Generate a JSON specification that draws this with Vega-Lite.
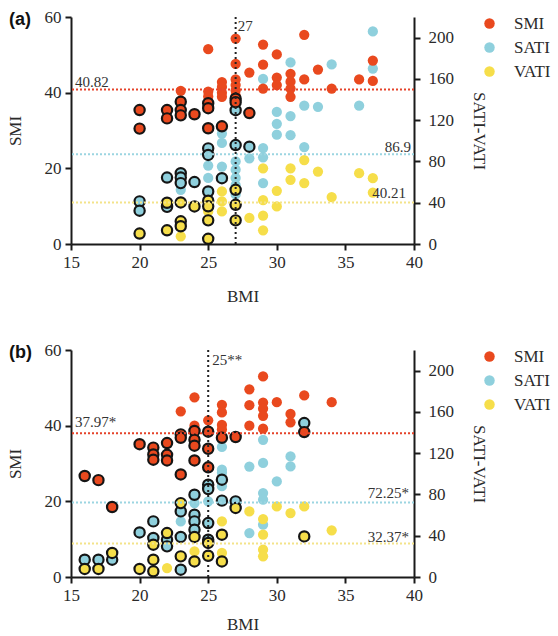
{
"$schema": "https://vega.github.io/schema/vega-lite/v6.json",
"autosize": {"type": "pad"},
"padding": {"left": 6, "top": 8, "right": 0, "bottom": 0},
"bounds": "flush",
"spacing": 106,
"config": {
 "view": {"stroke": null},
 "axis": {"labelFont": "Liberation Serif", "labelFontSize": 17, "labelColor": "#2a2a2a", "titleFont": "Liberation Serif", "titleFontSize": 17, "titleFontWeight": "normal", "titleColor": "#2a2a2a", "domainColor": "#1a1a1a", "domainWidth": 2, "tickColor": "#1a1a1a", "tickWidth": 2, "tickSize": 6, "grid": false, "labelFlush": false, "labelPadding": 4},
 "legend": {"orient": "none", "legendX": 410, "legendY": -2, "title": null, "labelFont": "Liberation Serif", "labelFontSize": 17, "labelColor": "#2a2a2a", "symbolType": "circle", "symbolSize": 110, "symbolStrokeWidth": 0, "rowPadding": 6, "labelOffset": 16}
},
"datasets": {
 "a": [
  {"BMI":23,"series":"SMI","value":40.5,"group":0},{"BMI":25,"series":"SMI","value":51.5,"group":0},{"BMI":25,"series":"SMI","value":40.3,"group":0},{"BMI":25,"series":"SMI","value":39.0,"group":0},{"BMI":26,"series":"SMI","value":42.8,"group":0},{"BMI":26,"series":"SMI","value":41.5,"group":0},{"BMI":26,"series":"SMI","value":40.0,"group":0},{"BMI":26,"series":"SMI","value":38.9,"group":0},{"BMI":27,"series":"SMI","value":54.3,"group":0},{"BMI":27,"series":"SMI","value":47.6,"group":0},{"BMI":27,"series":"SMI","value":43.5,"group":0},{"BMI":27,"series":"SMI","value":42.0,"group":0},{"BMI":27,"series":"SMI","value":40.6,"group":0},{"BMI":27,"series":"SMI","value":39.2,"group":0},{"BMI":28,"series":"SMI","value":45.3,"group":0},{"BMI":29,"series":"SMI","value":52.7,"group":0},{"BMI":29,"series":"SMI","value":47.4,"group":0},{"BMI":29,"series":"SMI","value":41.1,"group":0},{"BMI":30,"series":"SMI","value":50.1,"group":0},{"BMI":30,"series":"SMI","value":44.0,"group":0},{"BMI":30,"series":"SMI","value":42.0,"group":0},{"BMI":31,"series":"SMI","value":45.0,"group":0},{"BMI":31,"series":"SMI","value":42.9,"group":0},{"BMI":31,"series":"SMI","value":41.1,"group":0},{"BMI":31,"series":"SMI","value":38.9,"group":0},{"BMI":32,"series":"SMI","value":55.3,"group":0},{"BMI":32,"series":"SMI","value":43.5,"group":0},{"BMI":33,"series":"SMI","value":46.1,"group":0},{"BMI":34,"series":"SMI","value":41.1,"group":0},{"BMI":36,"series":"SMI","value":43.5,"group":0},{"BMI":37,"series":"SMI","value":48.5,"group":0},{"BMI":37,"series":"SMI","value":43.1,"group":0},
  {"BMI":20,"series":"SMI","value":35.4,"group":1},{"BMI":20,"series":"SMI","value":30.5,"group":1},{"BMI":22,"series":"SMI","value":35.4,"group":1},{"BMI":22,"series":"SMI","value":33.2,"group":1},{"BMI":23,"series":"SMI","value":37.6,"group":1},{"BMI":23,"series":"SMI","value":35.4,"group":1},{"BMI":23,"series":"SMI","value":34.0,"group":1},{"BMI":24,"series":"SMI","value":34.3,"group":1},{"BMI":25,"series":"SMI","value":37.2,"group":1},{"BMI":25,"series":"SMI","value":35.9,"group":1},{"BMI":25,"series":"SMI","value":30.6,"group":1},{"BMI":26,"series":"SMI","value":31.1,"group":1},{"BMI":27,"series":"SMI","value":38.4,"group":1},{"BMI":27,"series":"SMI","value":37.5,"group":1},{"BMI":28,"series":"SMI","value":34.6,"group":1},
  {"BMI":37,"series":"SATI","value":206,"group":0},{"BMI":37,"series":"SATI","value":170,"group":0},{"BMI":31,"series":"SATI","value":176,"group":0},{"BMI":34,"series":"SATI","value":174,"group":0},{"BMI":29,"series":"SATI","value":160,"group":0},{"BMI":32,"series":"SATI","value":134,"group":0},{"BMI":33,"series":"SATI","value":133,"group":0},{"BMI":36,"series":"SATI","value":134,"group":0},{"BMI":30,"series":"SATI","value":128,"group":0},{"BMI":31,"series":"SATI","value":124,"group":0},{"BMI":30,"series":"SATI","value":116.5,"group":0},{"BMI":30,"series":"SATI","value":106,"group":0},{"BMI":31,"series":"SATI","value":105.5,"group":0},{"BMI":32,"series":"SATI","value":94,"group":0},{"BMI":29,"series":"SATI","value":93,"group":0},{"BMI":29,"series":"SATI","value":84,"group":0},{"BMI":29,"series":"SATI","value":59,"group":0},{"BMI":28,"series":"SATI","value":83,"group":0},{"BMI":26,"series":"SATI","value":107,"group":0},{"BMI":26,"series":"SATI","value":98,"group":0},{"BMI":26,"series":"SATI","value":75,"group":0},{"BMI":25,"series":"SATI","value":76,"group":0},{"BMI":25,"series":"SATI","value":64,"group":0},{"BMI":27,"series":"SATI","value":80,"group":0},{"BMI":27,"series":"SATI","value":72,"group":0},{"BMI":27,"series":"SATI","value":64,"group":0},{"BMI":27,"series":"SATI","value":57,"group":0},{"BMI":27,"series":"SATI","value":48,"group":0},{"BMI":23,"series":"SATI","value":52.5,"group":0},
  {"BMI":29,"series":"VATI","value":73.4,"group":0},{"BMI":31,"series":"VATI","value":73.4,"group":0},{"BMI":32,"series":"VATI","value":81.4,"group":0},{"BMI":33,"series":"VATI","value":70.2,"group":0},{"BMI":36,"series":"VATI","value":68.6,"group":0},{"BMI":37,"series":"VATI","value":63.8,"group":0},{"BMI":31,"series":"VATI","value":62.2,"group":0},{"BMI":32,"series":"VATI","value":59,"group":0},{"BMI":30,"series":"VATI","value":51.6,"group":0},{"BMI":29,"series":"VATI","value":42.5,"group":0},{"BMI":30,"series":"VATI","value":36.4,"group":0},{"BMI":34,"series":"VATI","value":45.5,"group":0},{"BMI":37,"series":"VATI","value":49.9,"group":0},{"BMI":28,"series":"VATI","value":25.3,"group":0},{"BMI":29,"series":"VATI","value":27.5,"group":0},{"BMI":29,"series":"VATI","value":13.3,"group":0},{"BMI":26,"series":"VATI","value":50.9,"group":0},{"BMI":26,"series":"VATI","value":41.3,"group":0},{"BMI":26,"series":"VATI","value":31.6,"group":0},{"BMI":25,"series":"VATI","value":31.6,"group":0},{"BMI":23,"series":"VATI","value":7.5,"group":0},
  {"BMI":20,"series":"SATI","value":41.3,"group":1},{"BMI":20,"series":"SATI","value":32.3,"group":1},{"BMI":22,"series":"SATI","value":64.4,"group":1},{"BMI":22,"series":"SATI","value":36,"group":1},{"BMI":23,"series":"SATI","value":68.6,"group":1},{"BMI":23,"series":"SATI","value":64.4,"group":1},{"BMI":23,"series":"SATI","value":59,"group":1},{"BMI":24,"series":"SATI","value":60,"group":1},{"BMI":25,"series":"SATI","value":92.7,"group":1},{"BMI":25,"series":"SATI","value":86.3,"group":1},{"BMI":25,"series":"SATI","value":50.9,"group":1},{"BMI":26,"series":"SATI","value":63.8,"group":1},{"BMI":27,"series":"SATI","value":129.7,"group":1},{"BMI":27,"series":"SATI","value":95.9,"group":1},{"BMI":28,"series":"SATI","value":94.3,"group":1},
  {"BMI":20,"series":"VATI","value":10.1,"group":1},{"BMI":22,"series":"VATI","value":40,"group":1},{"BMI":22,"series":"VATI","value":13.3,"group":1},{"BMI":23,"series":"VATI","value":40.3,"group":1},{"BMI":23,"series":"VATI","value":22,"group":1},{"BMI":23,"series":"VATI","value":17.2,"group":1},{"BMI":24,"series":"VATI","value":36.4,"group":1},{"BMI":25,"series":"VATI","value":41.9,"group":1},{"BMI":25,"series":"VATI","value":36.5,"group":1},{"BMI":25,"series":"VATI","value":22.9,"group":1},{"BMI":25,"series":"VATI","value":5,"group":1},{"BMI":27,"series":"VATI","value":52.5,"group":1},{"BMI":27,"series":"VATI","value":38,"group":1},{"BMI":27,"series":"VATI","value":22.9,"group":1}
 ],
 "b": [
  {"BMI":23,"series":"SMI","value":43.8,"group":0},{"BMI":24,"series":"SMI","value":47.5,"group":0},{"BMI":24,"series":"SMI","value":40.0,"group":0},{"BMI":25,"series":"SMI","value":41.4,"group":0},{"BMI":26,"series":"SMI","value":45.5,"group":0},{"BMI":26,"series":"SMI","value":43.5,"group":0},{"BMI":26,"series":"SMI","value":40.2,"group":0},{"BMI":26,"series":"SMI","value":39.0,"group":0},{"BMI":28,"series":"SMI","value":49.6,"group":0},{"BMI":28,"series":"SMI","value":45.4,"group":0},{"BMI":28,"series":"SMI","value":40.0,"group":0},{"BMI":29,"series":"SMI","value":53.0,"group":0},{"BMI":29,"series":"SMI","value":46.1,"group":0},{"BMI":29,"series":"SMI","value":44.5,"group":0},{"BMI":29,"series":"SMI","value":42.6,"group":0},{"BMI":29,"series":"SMI","value":39.2,"group":0},{"BMI":30,"series":"SMI","value":46.2,"group":0},{"BMI":31,"series":"SMI","value":43.1,"group":0},{"BMI":31,"series":"SMI","value":40.9,"group":0},{"BMI":32,"series":"SMI","value":48.0,"group":0},{"BMI":34,"series":"SMI","value":46.2,"group":0},
  {"BMI":16,"series":"SMI","value":26.7,"group":1},{"BMI":17,"series":"SMI","value":25.6,"group":1},{"BMI":18,"series":"SMI","value":18.5,"group":1},{"BMI":20,"series":"SMI","value":35.1,"group":1},{"BMI":21,"series":"SMI","value":34.2,"group":1},{"BMI":21,"series":"SMI","value":32.4,"group":1},{"BMI":21,"series":"SMI","value":31.0,"group":1},{"BMI":22,"series":"SMI","value":35.4,"group":1},{"BMI":22,"series":"SMI","value":32.3,"group":1},{"BMI":22,"series":"SMI","value":30.8,"group":1},{"BMI":23,"series":"SMI","value":37.7,"group":1},{"BMI":23,"series":"SMI","value":36.8,"group":1},{"BMI":23,"series":"SMI","value":27.1,"group":1},{"BMI":24,"series":"SMI","value":38.6,"group":1},{"BMI":24,"series":"SMI","value":36.3,"group":1},{"BMI":24,"series":"SMI","value":34.7,"group":1},{"BMI":24,"series":"SMI","value":30.8,"group":1},{"BMI":25,"series":"SMI","value":38.4,"group":1},{"BMI":25,"series":"SMI","value":33.9,"group":1},{"BMI":25,"series":"SMI","value":29.0,"group":1},{"BMI":26,"series":"SMI","value":36.8,"group":1},{"BMI":27,"series":"SMI","value":37.0,"group":1},{"BMI":32,"series":"SMI","value":38.3,"group":1},
  {"BMI":23,"series":"SATI","value":53.9,"group":0},{"BMI":24,"series":"SATI","value":71.7,"group":0},{"BMI":25,"series":"SATI","value":73.3,"group":0},{"BMI":25,"series":"SATI","value":107,"group":0},{"BMI":26,"series":"SATI","value":101,"group":0},{"BMI":26,"series":"SATI","value":88,"group":0},{"BMI":26,"series":"SATI","value":126,"group":0},{"BMI":26,"series":"SATI","value":104,"group":0},{"BMI":28,"series":"SATI","value":107,"group":0},{"BMI":28,"series":"SATI","value":42.6,"group":0},{"BMI":29,"series":"SATI","value":133,"group":0},{"BMI":29,"series":"SATI","value":110.5,"group":0},{"BMI":29,"series":"SATI","value":81.4,"group":0},{"BMI":29,"series":"SATI","value":74.9,"group":0},{"BMI":29,"series":"SATI","value":50.7,"group":0},{"BMI":30,"series":"SATI","value":92.6,"group":0},{"BMI":31,"series":"SATI","value":116.9,"group":0},{"BMI":31,"series":"SATI","value":107.2,"group":0},
  {"BMI":22,"series":"VATI","value":8.7,"group":0},{"BMI":24,"series":"VATI","value":24.8,"group":0},{"BMI":26,"series":"VATI","value":53.9,"group":0},{"BMI":26,"series":"VATI","value":23.3,"group":0},{"BMI":28,"series":"VATI","value":63.6,"group":0},{"BMI":29,"series":"VATI","value":56.2,"group":0},{"BMI":29,"series":"VATI","value":41,"group":0},{"BMI":29,"series":"VATI","value":26.5,"group":0},{"BMI":29,"series":"VATI","value":20,"group":0},{"BMI":30,"series":"VATI","value":68.4,"group":0},{"BMI":31,"series":"VATI","value":62,"group":0},{"BMI":32,"series":"VATI","value":68.4,"group":0},{"BMI":34,"series":"VATI","value":45.2,"group":0},
  {"BMI":16,"series":"SATI","value":16.8,"group":1},{"BMI":17,"series":"SATI","value":16.8,"group":1},{"BMI":18,"series":"SATI","value":16.8,"group":1},{"BMI":20,"series":"SATI","value":43.2,"group":1},{"BMI":21,"series":"SATI","value":53.9,"group":1},{"BMI":21,"series":"SATI","value":37.8,"group":1},{"BMI":22,"series":"SATI","value":36.1,"group":1},{"BMI":22,"series":"SATI","value":29.7,"group":1},{"BMI":23,"series":"SATI","value":63.6,"group":1},{"BMI":23,"series":"SATI","value":38.8,"group":1},{"BMI":23,"series":"SATI","value":7.1,"group":1},{"BMI":24,"series":"SATI","value":79.7,"group":1},{"BMI":24,"series":"SATI","value":60.4,"group":1},{"BMI":24,"series":"SATI","value":53.9,"group":1},{"BMI":24,"series":"SATI","value":45.8,"group":1},{"BMI":25,"series":"SATI","value":89.4,"group":1},{"BMI":25,"series":"SATI","value":85.3,"group":1},{"BMI":25,"series":"SATI","value":52.3,"group":1},{"BMI":25,"series":"SATI","value":36.1,"group":1},{"BMI":26,"series":"SATI","value":94.3,"group":1},{"BMI":26,"series":"SATI","value":74,"group":1},{"BMI":27,"series":"SATI","value":73.3,"group":1},{"BMI":32,"series":"SATI","value":149.2,"group":1},
  {"BMI":16,"series":"VATI","value":7.8,"group":1},{"BMI":17,"series":"VATI","value":7.8,"group":1},{"BMI":18,"series":"VATI","value":23.3,"group":1},{"BMI":20,"series":"VATI","value":7.8,"group":1},{"BMI":21,"series":"VATI","value":31.3,"group":1},{"BMI":21,"series":"VATI","value":16.8,"group":1},{"BMI":21,"series":"VATI","value":5.5,"group":1},{"BMI":22,"series":"VATI","value":42.6,"group":1},{"BMI":23,"series":"VATI","value":71.6,"group":1},{"BMI":23,"series":"VATI","value":20,"group":1},{"BMI":24,"series":"VATI","value":38.8,"group":1},{"BMI":24,"series":"VATI","value":15.1,"group":1},{"BMI":25,"series":"VATI","value":33,"group":1},{"BMI":25,"series":"VATI","value":20.6,"group":1},{"BMI":26,"series":"VATI","value":41,"group":1},{"BMI":26,"series":"VATI","value":15.1,"group":1},{"BMI":27,"series":"VATI","value":66.9,"group":1},{"BMI":32,"series":"VATI","value":39.3,"group":1}
 ]
},
"vconcat": [
 {
  "width": 343, "height": 227,
  "title": {"text": "(a)", "anchor": "start", "frame": "group", "orient": "top", "dx": -62, "dy": 21, "offset": 0, "font": "Liberation Sans", "fontSize": 18, "fontWeight": "bold", "color": "#111"},
  "layer": [
   {"layer": [
     {"data": {"name": "a"}, "transform": [{"filter": "datum.series != 'SMI'"}],
      "mark": {"type": "point", "filled": true, "size": 105, "opacity": 1},
      "encoding": {
       "x": {"field": "BMI", "type": "quantitative", "scale": {"domain": [15, 40], "nice": false}, "axis": {"values": [15, 20, 25, 30, 35, 40], "title": "BMI", "titlePadding": 18, "labelFont": "Liberation Serif"}},
       "y": {"field": "value", "type": "quantitative", "scale": {"domain": [0, 220], "nice": false}, "axis": {"orient": "right", "values": [0, 40, 80, 120, 160, 200], "title": "SATI-VATI", "labelPadding": 8, "titlePadding": 16, "labelFont": "Liberation Serif"}},
       "color": {"field": "series", "type": "nominal", "scale": {"domain": ["SMI", "SATI", "VATI"], "range": ["#E9491E", "#8FD0DD", "#F6DE4A"]}},
       "stroke": {"condition": {"test": "datum.group == 1", "value": "#151515"}, "value": "transparent"},
       "strokeWidth": {"condition": {"test": "datum.group == 1", "value": 2.2}, "value": 0}
      }},
     {"data": {"values": [{}]}, "mark": {"type": "rule", "color": "#9CD5E1", "strokeDash": [2, 2], "strokeWidth": 2}, "encoding": {"y": {"datum": 86.9}}},
     {"data": {"values": [{}]}, "mark": {"type": "rule", "color": "#F3E38A", "strokeDash": [2, 2], "strokeWidth": 2}, "encoding": {"y": {"datum": 40.21}}},
     {"data": {"values": [{}]}, "mark": {"type": "text", "align": "right", "baseline": "alphabetic", "dx": -3, "dy": -2, "font": "Liberation Serif", "fontSize": 15, "color": "#333"}, "encoding": {"x": {"datum": 40}, "y": {"datum": 86.9}, "text": {"value": "86.9"}}},
     {"data": {"values": [{}]}, "mark": {"type": "text", "align": "right", "baseline": "alphabetic", "dx": -8, "dy": -5, "font": "Liberation Serif", "fontSize": 15, "color": "#333"}, "encoding": {"x": {"datum": 40}, "y": {"datum": 40.21}, "text": {"value": "40.21"}}}
   ]},
   {"layer": [
     {"data": {"name": "a"}, "transform": [{"filter": "datum.series == 'SMI'"}],
      "mark": {"type": "point", "filled": true, "size": 105, "opacity": 1},
      "encoding": {
       "x": {"field": "BMI", "type": "quantitative", "scale": {"domain": [15, 40], "nice": false}, "axis": {"values": [15, 20, 25, 30, 35, 40], "title": "BMI", "titlePadding": 18, "labelFont": "Liberation Serif"}},
       "y": {"field": "value", "type": "quantitative", "scale": {"domain": [0, 60], "nice": false}, "axis": {"orient": "left", "values": [0, 10, 20, 30, 40, 50, 60], "title": "SMI", "titlePadding": 20, "labelFont": "Liberation Serif"}},
       "color": {"field": "series", "type": "nominal", "scale": {"domain": ["SMI", "SATI", "VATI"], "range": ["#E9491E", "#8FD0DD", "#F6DE4A"]}},
       "stroke": {"condition": {"test": "datum.group == 1", "value": "#151515"}, "value": "transparent"},
       "strokeWidth": {"condition": {"test": "datum.group == 1", "value": 2.2}, "value": 0}
      }},
     {"data": {"values": [{}]}, "mark": {"type": "rule", "color": "#E5432A", "strokeDash": [2, 2], "strokeWidth": 2}, "encoding": {"y": {"datum": 40.82}}},
     {"data": {"values": [{}]}, "mark": {"type": "rule", "color": "#222", "strokeDash": [2, 3], "strokeWidth": 2}, "encoding": {"x": {"datum": 27}}},
     {"data": {"values": [{}]}, "mark": {"type": "text", "align": "left", "baseline": "alphabetic", "dx": 4, "dy": -3, "font": "Liberation Serif", "fontSize": 15, "color": "#333"}, "encoding": {"x": {"datum": 15}, "y": {"datum": 40.82}, "text": {"value": "40.82"}}},
     {"data": {"values": [{}]}, "mark": {"type": "text", "align": "left", "baseline": "top", "dx": 2, "dy": 2, "font": "Liberation Serif", "fontSize": 15, "color": "#333"}, "encoding": {"x": {"datum": 27}, "y": {"datum": 60}, "text": {"value": "27"}}}
   ]}
  ],
  "resolve": {"scale": {"y": "independent"}}
 },
 {
  "width": 343, "height": 227,
  "title": {"text": "(b)", "anchor": "start", "frame": "group", "orient": "top", "dx": -62, "dy": 21, "offset": 0, "font": "Liberation Sans", "fontSize": 18, "fontWeight": "bold", "color": "#111"},
  "layer": [
   {"layer": [
     {"data": {"name": "b"}, "transform": [{"filter": "datum.series != 'SMI'"}],
      "mark": {"type": "point", "filled": true, "size": 105, "opacity": 1},
      "encoding": {
       "x": {"field": "BMI", "type": "quantitative", "scale": {"domain": [15, 40], "nice": false}, "axis": {"values": [15, 20, 25, 30, 35, 40], "title": "BMI", "titlePadding": 13, "labelFont": "Liberation Serif"}},
       "y": {"field": "value", "type": "quantitative", "scale": {"domain": [0, 220], "nice": false}, "axis": {"orient": "right", "values": [0, 40, 80, 120, 160, 200], "title": "SATI-VATI", "labelPadding": 8, "titlePadding": 16, "labelFont": "Liberation Serif"}},
       "color": {"field": "series", "type": "nominal", "scale": {"domain": ["SMI", "SATI", "VATI"], "range": ["#E9491E", "#8FD0DD", "#F6DE4A"]}},
       "stroke": {"condition": {"test": "datum.group == 1", "value": "#151515"}, "value": "transparent"},
       "strokeWidth": {"condition": {"test": "datum.group == 1", "value": 2.2}, "value": 0}
      }},
     {"data": {"values": [{}]}, "mark": {"type": "rule", "color": "#9CD5E1", "strokeDash": [2, 2], "strokeWidth": 2}, "encoding": {"y": {"datum": 72.25}}},
     {"data": {"values": [{}]}, "mark": {"type": "rule", "color": "#F3E38A", "strokeDash": [2, 2], "strokeWidth": 2}, "encoding": {"y": {"datum": 32.37}}},
     {"data": {"values": [{}]}, "mark": {"type": "text", "align": "right", "baseline": "alphabetic", "dx": -5, "dy": -4, "font": "Liberation Serif", "fontSize": 15, "color": "#333"}, "encoding": {"x": {"datum": 40}, "y": {"datum": 72.25}, "text": {"value": "72.25*"}}},
     {"data": {"values": [{}]}, "mark": {"type": "text", "align": "right", "baseline": "alphabetic", "dx": -5, "dy": -2, "font": "Liberation Serif", "fontSize": 15, "color": "#333"}, "encoding": {"x": {"datum": 40}, "y": {"datum": 32.37}, "text": {"value": "32.37*"}}}
   ]},
   {"layer": [
     {"data": {"name": "b"}, "transform": [{"filter": "datum.series == 'SMI'"}],
      "mark": {"type": "point", "filled": true, "size": 105, "opacity": 1},
      "encoding": {
       "x": {"field": "BMI", "type": "quantitative", "scale": {"domain": [15, 40], "nice": false}, "axis": {"values": [15, 20, 25, 30, 35, 40], "title": "BMI", "titlePadding": 13, "labelFont": "Liberation Serif"}},
       "y": {"field": "value", "type": "quantitative", "scale": {"domain": [0, 60], "nice": false}, "axis": {"orient": "left", "values": [0, 10, 20, 30, 40, 50, 60], "title": "SMI", "titlePadding": 20, "labelFont": "Liberation Serif"}},
       "color": {"field": "series", "type": "nominal", "scale": {"domain": ["SMI", "SATI", "VATI"], "range": ["#E9491E", "#8FD0DD", "#F6DE4A"]}},
       "stroke": {"condition": {"test": "datum.group == 1", "value": "#151515"}, "value": "transparent"},
       "strokeWidth": {"condition": {"test": "datum.group == 1", "value": 2.2}, "value": 0}
      }},
     {"data": {"values": [{}]}, "mark": {"type": "rule", "color": "#E5432A", "strokeDash": [2, 2], "strokeWidth": 2}, "encoding": {"y": {"datum": 37.97}}},
     {"data": {"values": [{}]}, "mark": {"type": "rule", "color": "#222", "strokeDash": [2, 3], "strokeWidth": 2}, "encoding": {"x": {"datum": 25}}},
     {"data": {"values": [{}]}, "mark": {"type": "text", "align": "left", "baseline": "alphabetic", "dx": 4, "dy": -6, "font": "Liberation Serif", "fontSize": 15, "color": "#333"}, "encoding": {"x": {"datum": 15}, "y": {"datum": 37.97}, "text": {"value": "37.97*"}}},
     {"data": {"values": [{}]}, "mark": {"type": "text", "align": "left", "baseline": "top", "dx": 4, "dy": 3, "font": "Liberation Serif", "fontSize": 15, "color": "#333"}, "encoding": {"x": {"datum": 25}, "y": {"datum": 60}, "text": {"value": "25**"}}}
   ]}
  ],
  "resolve": {"scale": {"y": "independent"}}
 }
],
"resolve": {"legend": {"color": "independent"}, "scale": {"color": "independent"}}
}
